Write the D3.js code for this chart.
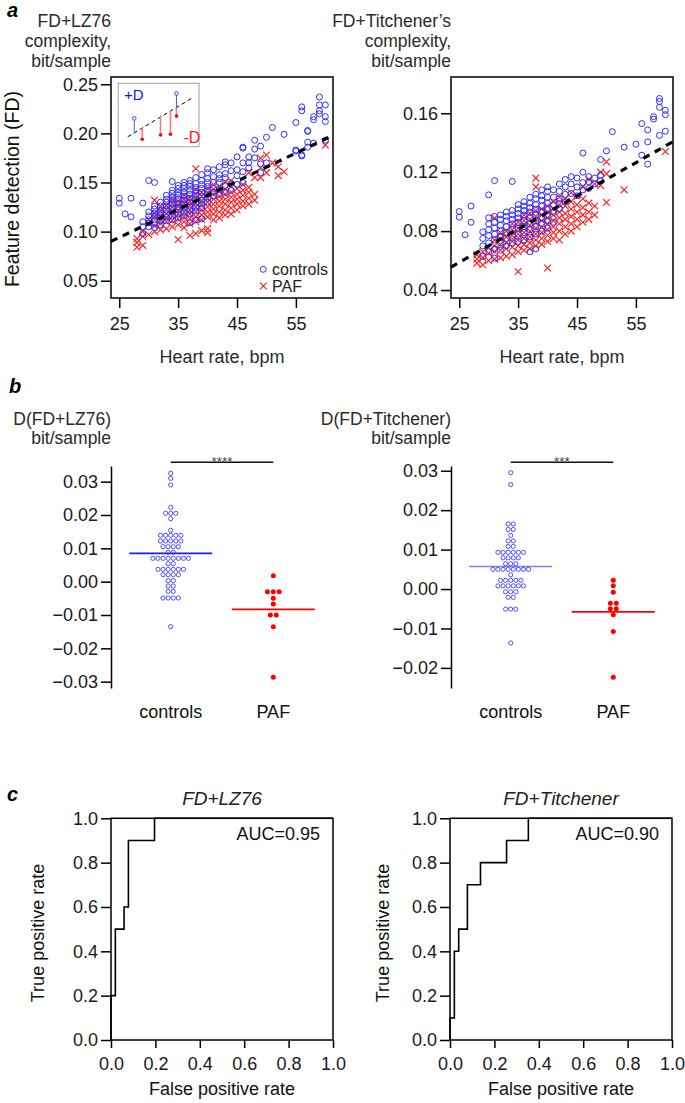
<!DOCTYPE html>
<html>
<head>
<meta charset="utf-8">
<script src="https://cdn.jsdelivr.net/npm/d3@7"></script>
<style>
  body { margin: 0; background: #fff; }
  text { font-family: Arial, "Liberation Sans", sans-serif; }
</style>
</head>
<body>
<div class="container"></div>
<script>
// ---------- data ----------
const hrTicks = [25, 35, 45, 55];
const lzTicks = [0.05, 0.10, 0.15, 0.20, 0.25];
const tiTicks = [0.04, 0.08, 0.12, 0.16];
const lzFit = [[23.6, 0.090], [61.3, 0.198]];
const tiFit = [[23.6, 0.0556], [61.3, 0.1407]];

// scatter columns: [heart rate, [complexity values]]
const lzControls = [
  [25, [0.134, 0.129]], [26, [0.118]], [27, [0.134, 0.115]],
  [29, [0.129, 0.098, 0.105, 0.110]],
  [30, [0.152, 0.105, 0.109, 0.112, 0.116, 0.120]],
  [31, [0.150, 0.104, 0.108, 0.112, 0.116, 0.119, 0.123, 0.126]],
  [32, [0.107, 0.111, 0.115, 0.119, 0.122, 0.126, 0.130]],
  [33, [0.111, 0.115, 0.118, 0.122, 0.126, 0.130, 0.133, 0.137]],
  [34, [0.151, 0.112, 0.116, 0.120, 0.124, 0.128, 0.132, 0.135, 0.139, 0.142]],
  [35, [0.114, 0.118, 0.122, 0.125, 0.129, 0.133, 0.137, 0.140, 0.144, 0.147]],
  [36, [0.116, 0.120, 0.124, 0.128, 0.132, 0.136, 0.140, 0.144, 0.147, 0.150]],
  [37, [0.109, 0.118, 0.122, 0.126, 0.130, 0.134, 0.138, 0.142, 0.146, 0.149, 0.152]],
  [38, [0.112, 0.121, 0.125, 0.129, 0.133, 0.137, 0.141, 0.145, 0.149, 0.155]],
  [39, [0.113, 0.124, 0.128, 0.132, 0.136, 0.140, 0.144, 0.148, 0.152, 0.158]],
  [40, [0.130, 0.134, 0.138, 0.142, 0.146, 0.150, 0.154, 0.160, 0.164]],
  [41, [0.136, 0.140, 0.144, 0.150, 0.156, 0.163]],
  [42, [0.138, 0.143, 0.150, 0.154, 0.158, 0.166]],
  [43, [0.140, 0.147, 0.155, 0.159, 0.168, 0.171]],
  [44, [0.142, 0.149, 0.162, 0.170]],
  [45, [0.148, 0.157, 0.163, 0.176]],
  [46, [0.150, 0.161, 0.170, 0.185, 0.186]],
  [47, [0.165, 0.170, 0.176]],
  [48, [0.175, 0.184, 0.193]],
  [49, [0.160, 0.169, 0.187]],
  [50, [0.170, 0.196]],
  [51, [0.206]], [53, [0.199]],
  [55, [0.211, 0.182, 0.183]],
  [56, [0.227, 0.223, 0.177, 0.178]],
  [57, [0.203, 0.191, 0.186, 0.202]],
  [58, [0.217, 0.214, 0.190]],
  [59, [0.237, 0.229, 0.223, 0.220]],
  [60, [0.229, 0.217, 0.212, 0.193]]
];
const lzPaf = [
  [28, [0.089, 0.084, 0.093]],
  [29, [0.086, 0.095, 0.100]],
  [30, [0.097, 0.108, 0.112]],
  [31, [0.132, 0.100, 0.106, 0.114, 0.118]],
  [32, [0.102, 0.108, 0.112, 0.116, 0.121, 0.125]],
  [33, [0.103, 0.110, 0.114, 0.118, 0.123, 0.127]],
  [34, [0.105, 0.111, 0.116, 0.120, 0.125, 0.129, 0.133]],
  [35, [0.092, 0.107, 0.113, 0.118, 0.122, 0.127, 0.131]],
  [36, [0.104, 0.110, 0.115, 0.120, 0.124, 0.129, 0.133, 0.137]],
  [37, [0.096, 0.108, 0.113, 0.118, 0.122, 0.127, 0.131, 0.135]],
  [38, [0.098, 0.164, 0.110, 0.115, 0.120, 0.125, 0.129, 0.134, 0.138, 0.143]],
  [39, [0.101, 0.112, 0.117, 0.122, 0.127, 0.131, 0.136, 0.140]],
  [40, [0.103, 0.099, 0.115, 0.120, 0.125, 0.130, 0.134, 0.139, 0.144]],
  [41, [0.112, 0.118, 0.123, 0.128, 0.133, 0.138, 0.143, 0.148]],
  [42, [0.114, 0.120, 0.126, 0.131, 0.136, 0.141, 0.146]],
  [43, [0.117, 0.122, 0.128, 0.133, 0.138, 0.143, 0.150]],
  [44, [0.118, 0.124, 0.130, 0.135, 0.140, 0.146, 0.152]],
  [45, [0.122, 0.128, 0.133, 0.138, 0.144]],
  [46, [0.126, 0.131, 0.137, 0.142, 0.148]],
  [47, [0.128, 0.134, 0.140, 0.145, 0.160]],
  [48, [0.132, 0.138, 0.155]],
  [49, [0.155, 0.175, 0.165]],
  [50, [0.178, 0.160]],
  [51, [0.170]], [52, [0.166, 0.157]], [53, [0.161]],
  [60, [0.188]]
];
const tiControls = [
  [25, [0.0933, 0.0895]], [26, [0.0775]], [27, [0.097, 0.086]],
  [29, [0.0628, 0.070, 0.075, 0.0795]],
  [30, [0.1046, 0.066, 0.072, 0.077, 0.081, 0.085, 0.089]],
  [31, [0.1143, 0.0617, 0.068, 0.074, 0.078, 0.082, 0.086, 0.090]],
  [32, [0.067, 0.072, 0.076, 0.080, 0.084, 0.088, 0.091]],
  [33, [0.070, 0.075, 0.079, 0.083, 0.087, 0.090, 0.093]],
  [34, [0.1137, 0.072, 0.077, 0.081, 0.085, 0.088, 0.091, 0.094]],
  [35, [0.073, 0.078, 0.082, 0.086, 0.089, 0.092, 0.095, 0.098]],
  [36, [0.074, 0.079, 0.083, 0.087, 0.091, 0.094, 0.097, 0.100]],
  [37, [0.066, 0.076, 0.081, 0.085, 0.089, 0.093, 0.096, 0.099, 0.103]],
  [38, [0.068, 0.078, 0.083, 0.087, 0.091, 0.095, 0.098, 0.102, 0.105]],
  [39, [0.080, 0.085, 0.089, 0.093, 0.097, 0.101, 0.104, 0.108]],
  [40, [0.082, 0.087, 0.091, 0.095, 0.099, 0.103, 0.107, 0.110]],
  [41, [0.086, 0.093, 0.098, 0.103, 0.108]],
  [42, [0.0987, 0.095, 0.102, 0.107, 0.112]],
  [43, [0.100, 0.105, 0.110, 0.115]],
  [44, [0.1055, 0.112, 0.117]],
  [45, [0.104, 0.110, 0.116]],
  [46, [0.133, 0.120, 0.108, 0.113]],
  [47, [0.1136, 0.109, 0.117]],
  [48, [0.112, 0.116]],
  [49, [0.1286, 0.114, 0.118]],
  [50, [0.1344]], [51, [0.1475]], [53, [0.137]], [55, [0.139]],
  [56, [0.153, 0.1315]],
  [57, [0.1487, 0.1405, 0.1254]],
  [58, [0.1577, 0.156]],
  [59, [0.170, 0.168, 0.164, 0.145]],
  [60, [0.162, 0.159, 0.1478]]
];
const tiPaf = [
  [28, [0.0583, 0.061, 0.064]],
  [29, [0.0572, 0.062, 0.066]],
  [30, [0.060, 0.065, 0.069]],
  [31, [0.0888, 0.061, 0.066, 0.070, 0.074]],
  [32, [0.062, 0.067, 0.071, 0.075, 0.079]],
  [33, [0.063, 0.068, 0.072, 0.076, 0.080]],
  [34, [0.064, 0.069, 0.073, 0.077, 0.081, 0.085]],
  [35, [0.0526, 0.066, 0.070, 0.074, 0.078, 0.082, 0.086]],
  [36, [0.067, 0.071, 0.075, 0.079, 0.083, 0.087, 0.091]],
  [37, [0.068, 0.072, 0.076, 0.080, 0.084, 0.088, 0.092]],
  [38, [0.116, 0.110, 0.070, 0.074, 0.078, 0.082, 0.086, 0.090, 0.094]],
  [39, [0.071, 0.075, 0.079, 0.083, 0.087, 0.091, 0.095]],
  [40, [0.055, 0.073, 0.077, 0.081, 0.085, 0.089, 0.093, 0.097]],
  [41, [0.075, 0.079, 0.083, 0.087, 0.091, 0.095, 0.100]],
  [42, [0.074, 0.080, 0.085, 0.089, 0.093, 0.098, 0.103]],
  [43, [0.078, 0.083, 0.088, 0.092, 0.097, 0.102]],
  [44, [0.080, 0.085, 0.090, 0.095, 0.100, 0.106]],
  [45, [0.083, 0.088, 0.093, 0.098, 0.104]],
  [46, [0.086, 0.091, 0.096, 0.102, 0.110]],
  [47, [0.088, 0.093, 0.099, 0.115]],
  [48, [0.091, 0.097, 0.112]],
  [49, [0.111, 0.120]],
  [50, [0.127, 0.0994, 0.119]],
  [53, [0.108]],
  [60, [0.134]]
];

// inset schematic (its own unit square): fit line y = x
const insetBlue = [[0.083, 0.46], [0.745, 1.11]];
const insetRed = [[0.208, -0.086], [0.495, 0.026], [0.651, 0.044], [0.745, 0.52]];

// panel b: deviation from the fit
const dLzTicks = [-0.03, -0.02, -0.01, 0.00, 0.01, 0.02, 0.03];
const dTiTicks = [-0.02, -0.01, 0.00, 0.01, 0.02, 0.03];
const groups = ["controls", "PAF"];
const dLzControls = [0.0325, 0.031, 0.029, 0.0223, 0.0205, 0.0205, 0.0205, 0.0189, 0.0154,
  0.0139, 0.0139, 0.0139, 0.0139, 0.0139, 0.0122, 0.0122, 0.0122, 0.0122, 0.0122,
  0.0105, 0.0105, 0.0105, 0.0105, 0.0088, 0.0088,
  0.007, 0.007, 0.007, 0.007, 0.007, 0.007, 0.007, 0.007, 0.0054, 0.0054,
  0.0037, 0.0037, 0.0037, 0.0037, 0.0037, 0.0037, 0.0021, 0.0021, 0.0021, 0.0021,
  0.0003, 0.0003, -0.0013, -0.0013, -0.0029, -0.0029,
  -0.0049, -0.0049, -0.0049, -0.0049, -0.0135];
const dLzPaf = [0.0018, -0.003, -0.003, -0.003, -0.005, -0.0067, -0.010, -0.010, -0.0135, -0.0287];
const dLzMedian = [0.0085, -0.0083];
const dTiControls = [0.0295, 0.0265, 0.0165, 0.0165, 0.0151, 0.0151, 0.0136, 0.0122, 0.0122,
  0.0108, 0.0108, 0.0093, 0.0093, 0.0093, 0.0093, 0.0093, 0.0093,
  0.0079, 0.0079, 0.0079, 0.0079, 0.0064, 0.0064, 0.0064,
  0.005, 0.005, 0.005, 0.005, 0.005, 0.005, 0.005, 0.005, 0.0036,
  0.0022, 0.0022, 0.0022, 0.0022, 0.0022, 0.0008, 0.0008, 0.0008, 0.0008, 0.0008, 0.0008,
  -0.0007, -0.0007, -0.0007, -0.0021, -0.0021, -0.0051, -0.0051, -0.0051, -0.0137];
const dTiPaf = [0.0022, 0.0008, -0.0008, -0.0036, -0.0036, -0.005, -0.005, -0.0065, -0.0108, -0.0224];
const dTiMedian = [0.0057, -0.0058];

// panel c: ROC curves
const rocTicks = [0, 0.2, 0.4, 0.6, 0.8, 1.0];
const lzFpr = [0, 0.0196, 0.0588, 0.0784, 0.196, 1];
const lzTpr = [0, 0.2, 0.5, 0.6, 0.9, 1];
const tiFpr = [0, 0.0196, 0.0392, 0.0784, 0.1373, 0.2549, 0.3529, 1];
const tiTpr = [0, 0.1, 0.4, 0.5, 0.7, 0.8, 0.9, 1];

// ---------- drawing ----------
const W = 685, H = 1103;
const BLUE = "#2f2fff", RED = "#ff2020", INK = "#1a1a1a";
const FS = 18;

const svg = d3.select(".container").append("svg")
  .attr("width", W).attr("height", H);

function flat(cols) {
  return cols.flatMap(c => c[1].map(v => [c[0], v]));
}

function styleAxis(g) {
  g.selectAll("text").attr("font-size", FS).attr("fill", INK);
  g.selectAll("line").attr("stroke", "#000").attr("stroke-width", 1.5);
  g.select(".domain").attr("stroke", "#000").attr("stroke-width", 1.5);
}

function label(x, y, txt, opts) {
  opts = opts || {};
  const t = svg.append("text")
    .attr("x", x).attr("y", y)
    .attr("font-size", opts.size || 17.5)
    .attr("fill", opts.fill || "#2a2a2a")
    .attr("text-anchor", opts.anchor || "start")
    .text(txt);
  if (opts.italic) t.attr("font-style", "italic");
  if (opts.bold) t.attr("font-weight", "bold");
  if (opts.rotate) t.attr("transform", "rotate(-90," + x + "," + y + ")");
  return t;
}

function panelLetter(x, y, s) {
  label(x, y, s, { size: 20, bold: true, italic: true, fill: "#000" });
}

// ---- panel a ----
function scatterPanel(left, yDomain, yTicks, controls, paf, fit) {
  const x = d3.scaleLinear().domain([23.6, 61.3]).range([left, left + 222]);
  const y = d3.scaleLinear().domain(yDomain).range([298, 77]);
  const g = svg.append("g");

  g.append("g").attr("transform", "translate(0,298)")
    .call(d3.axisBottom(x).tickValues(hrTicks).tickSize(10).tickPadding(9).tickSizeOuter(0))
    .call(styleAxis)
    .call(a => a.select(".domain").remove());
  g.append("g").attr("transform", "translate(" + left + ",0)")
    .call(d3.axisLeft(y).tickValues(yTicks).tickSize(10).tickPadding(3).tickFormat(d3.format(".2f")))
    .call(styleAxis)
    .call(a => a.select(".domain").remove());

  g.append("g").selectAll("path")
    .data(flat(paf))
    .join("path")
    .attr("transform", d => "translate(" + x(d[0]) + "," + y(d[1]) + ")")
    .attr("d", "M-3.4,-3.4L3.4,3.4M-3.4,3.4L3.4,-3.4")
    .attr("stroke", RED).attr("stroke-width", 1.15).attr("fill", "none");

  g.append("g").selectAll("circle")
    .data(flat(controls))
    .join("circle")
    .attr("cx", d => x(d[0])).attr("cy", d => y(d[1]))
    .attr("r", 3)
    .attr("fill", "none").attr("stroke", BLUE).attr("stroke-width", 1);

  g.append("path")
    .attr("d", d3.line().x(d => x(d[0])).y(d => y(d[1]))(fit))
    .attr("stroke", "#000").attr("stroke-width", 3.2)
    .attr("stroke-dasharray", "7,6").attr("fill", "none");

  g.append("rect")
    .attr("x", left).attr("y", 77).attr("width", 222).attr("height", 221)
    .attr("fill", "none").attr("stroke", "#000").attr("stroke-width", 1.5);

  label(left + 111, 363, "Heart rate, bpm", { anchor: "middle", size: 18 });
  return { x: x, y: y };
}

panelLetter(7, 17, "a");
label(111, 27, "FD+LZ76", { anchor: "end" });
label(111, 47, "complexity,", { anchor: "end" });
label(111, 67, "bit/sample", { anchor: "end" });
label(451, 27, "FD+Titchener\u2019s", { anchor: "end" });
label(451, 47, "complexity,", { anchor: "end" });
label(451, 67, "bit/sample", { anchor: "end" });
label(19, 189, "Feature detection (FD)", { anchor: "middle", size: 19.5, rotate: true, fill: "#111" });

scatterPanel(111, [0.0324, 0.2574], lzTicks, lzControls, lzPaf, lzFit);
scatterPanel(451, [0.0346, 0.1846], tiTicks, tiControls, tiPaf, tiFit);

// inset in left scatter
const ix = d3.scaleLinear().domain([0, 1]).range([129, 192.7]);
const iy = d3.scaleLinear().domain([0, 1]).range([136, 97.7]);
const inset = svg.append("g");
inset.append("rect")
  .attr("x", 118.3).attr("y", 83.3).attr("width", 80.7).attr("height", 63.4)
  .attr("fill", "#fff").attr("stroke", "#a0a0a0").attr("stroke-width", 1);
inset.append("line")
  .attr("x1", ix(-0.02)).attr("y1", iy(-0.02)).attr("x2", ix(1)).attr("y2", iy(1))
  .attr("stroke", "#000").attr("stroke-width", 1).attr("stroke-dasharray", "4,3");
inset.selectAll(".rs").data(insetRed).join("line")
  .attr("x1", d => ix(d[0])).attr("x2", d => ix(d[0]))
  .attr("y1", d => iy(d[0])).attr("y2", d => iy(d[1]))
  .attr("stroke", "#ff7a7a").attr("stroke-width", 1.6);
inset.selectAll(".rd").data(insetRed).join("circle")
  .attr("cx", d => ix(d[0])).attr("cy", d => iy(d[1])).attr("r", 1.8).attr("fill", "#f00");
inset.selectAll(".bs").data(insetBlue).join("line")
  .attr("x1", d => ix(d[0])).attr("x2", d => ix(d[0]))
  .attr("y1", d => iy(d[0])).attr("y2", d => iy(d[1]))
  .attr("stroke", "#5050ff").attr("stroke-width", 1);
inset.selectAll(".bd").data(insetBlue).join("circle")
  .attr("cx", d => ix(d[0])).attr("cy", d => iy(d[1])).attr("r", 1.8)
  .attr("fill", "#fff").attr("stroke", "#3030ff").attr("stroke-width", 0.9);
label(124, 99.5, "+D", { size: 15, fill: "#1010ff" });
label(183.5, 143, "-D", { size: 16, fill: "#ff1a1a" });

// legend
svg.append("circle").attr("cx", 263.3).attr("cy", 269.3).attr("r", 3)
  .attr("fill", "none").attr("stroke", BLUE).attr("stroke-width", 1);
svg.append("path").attr("transform", "translate(263.3,286)")
  .attr("d", "M-3.4,-3.4L3.4,3.4M-3.4,3.4L3.4,-3.4")
  .attr("stroke", RED).attr("stroke-width", 1.15);
label(272, 275, "controls", { size: 16, fill: "#222" });
label(272, 292, "PAF", { size: 16, fill: "#222" });

// ---- panel b ----
function swarmX(vals, cx, step) {
  const counts = d3.rollup(vals, v => v.length, d => d);
  const seen = new Map();
  return vals.map(v => {
    const n = counts.get(v), i = seen.get(v) || 0;
    seen.set(v, i + 1);
    return [cx + (i - (n - 1) / 2) * step, v];
  });
}

function swarmPanel(left, yDomain, yTicks, ctrl, paf, med, medBlue, stars, title) {
  const y = d3.scaleLinear().domain(yDomain).range([688, 466]);
  const x = d3.scalePoint().domain(groups).range([left + 59.7, left + 162.3]);
  const g = svg.append("g");

  g.append("g").attr("transform", "translate(" + left + ",0)")
    .call(d3.axisLeft(y).tickValues(yTicks).tickSize(10).tickPadding(3).tickSizeOuter(0)
      .tickFormat(d3.format(".2f")))
    .call(styleAxis);

  g.append("line")
    .attr("x1", x("controls") - 41.5).attr("x2", x("controls") + 41.5)
    .attr("y1", y(med[0])).attr("y2", y(med[0]))
    .attr("stroke", medBlue).attr("stroke-width", 1.6);
  g.append("line")
    .attr("x1", x("PAF") - 41.5).attr("x2", x("PAF") + 41.5)
    .attr("y1", y(med[1])).attr("y2", y(med[1]))
    .attr("stroke", "#ff0000").attr("stroke-width", 1.6);

  g.append("g").selectAll("circle")
    .data(swarmX(ctrl, x("controls"), 5.1))
    .join("circle")
    .attr("cx", d => d[0]).attr("cy", d => y(d[1])).attr("r", 2.1)
    .attr("fill", "none").attr("stroke", "#3c3cff").attr("stroke-width", 0.9);
  g.append("g").selectAll("circle")
    .data(swarmX(paf, x("PAF"), 5.9))
    .join("circle")
    .attr("cx", d => d[0]).attr("cy", d => y(d[1])).attr("r", 2.5)
    .attr("fill", "#ff0000");

  g.append("line")
    .attr("x1", x("controls")).attr("x2", x("PAF"))
    .attr("y1", 462.3).attr("y2", 462.3)
    .attr("stroke", "#111").attr("stroke-width", 1.5);
  label((x("controls") + x("PAF")) / 2, 465.5, stars, { anchor: "middle", size: 13.5, fill: "#444" });

  groups.forEach(k => label(x(k), 718, k, { anchor: "middle", size: 18, fill: "#111" }));
  label(left, 425, title, { anchor: "end" });
  label(left, 444, "bit/sample", { anchor: "end" });
}

panelLetter(9, 393, "b");
swarmPanel(111, [-0.0319, 0.0347], dLzTicks, dLzControls, dLzPaf, dLzMedian, "#1a1aff", "****", "D(FD+LZ76)");
swarmPanel(451, [-0.0251, 0.0312], dTiTicks, dTiControls, dTiPaf, dTiMedian, "#8080ff", "***", "D(FD+Titchener)");

// ---- panel c ----
function rocPanel(left, fpr, tpr, title, auc, ylabX) {
  const x = d3.scaleLinear().domain([0, 1]).range([left, left + 222]);
  const y = d3.scaleLinear().domain([0, 1]).range([1040, 818.3]);
  const g = svg.append("g");

  g.append("g").attr("transform", "translate(0,1040)")
    .call(d3.axisBottom(x).tickValues(rocTicks).tickSize(8).tickPadding(9).tickFormat(d3.format(".1f")))
    .call(styleAxis)
    .call(a => a.select(".domain").remove());
  g.append("g").attr("transform", "translate(" + left + ",0)")
    .call(d3.axisLeft(y).tickValues(rocTicks).tickSize(10).tickPadding(3).tickFormat(d3.format(".1f")))
    .call(styleAxis)
    .call(a => a.select(".domain").remove());

  const pts = fpr.map((f, i) => [f, tpr[i]]);
  g.append("path")
    .attr("d", d3.line().x(d => x(d[0])).y(d => y(d[1])).curve(d3.curveStepBefore)(pts))
    .attr("fill", "none").attr("stroke", "#000").attr("stroke-width", 1.6);

  g.append("rect")
    .attr("x", left).attr("y", 818.3).attr("width", 222).attr("height", 221.7)
    .attr("fill", "none").attr("stroke", "#000").attr("stroke-width", 1.5);

  label(left + 111, 805, title, { anchor: "middle", size: 19, italic: true, fill: "#222" });
  label(left + 209, 840, auc, { anchor: "end", size: 18, fill: "#111" });
  label(left + 111, 1095, "False positive rate", { anchor: "middle", size: 18, fill: "#111" });
  label(ylabX, 933, "True positive rate", { anchor: "middle", size: 18, rotate: true, fill: "#111" });
}

panelLetter(7, 801, "c");
rocPanel(111, lzFpr, lzTpr, "FD+LZ76", "AUC=0.95", 44);
rocPanel(450, tiFpr, tiTpr, "FD+Titchener", "AUC=0.90", 389);
</script>
</body>
</html>
